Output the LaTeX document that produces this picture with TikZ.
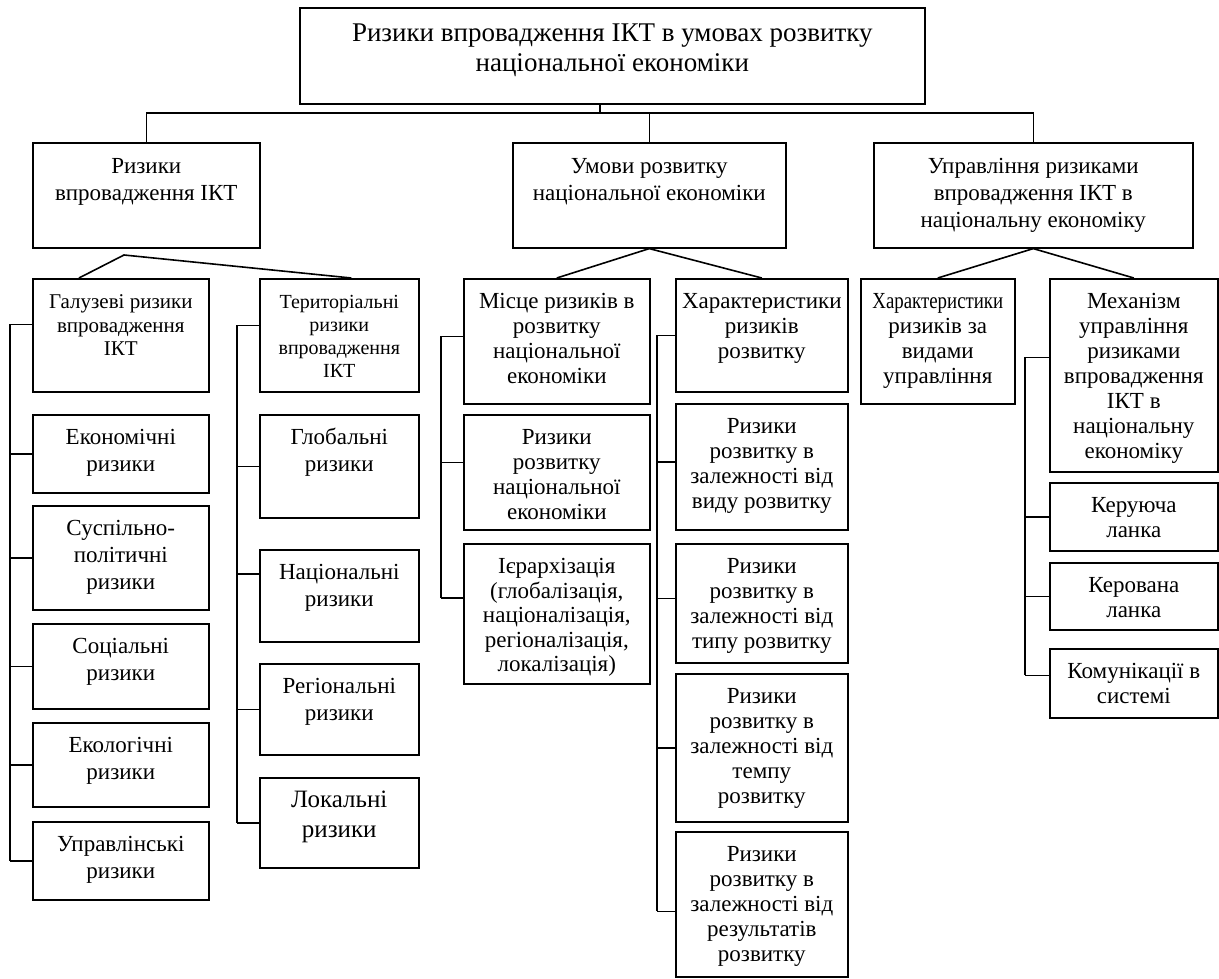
\documentclass[tikz,border=0pt]{standalone}
\usepackage{fontspec}
\setmainfont{Liberation Serif}
\usepackage{graphicx}

% text of a box: width, height, first baseline from the top
\newcommand{\cell}[4][30pt]{\parbox[c][#3][t]{#2}{\centering\vspace*{\dimexpr#1-\ht\strutbox\relax}\strut#4\par}}

\begin{document}
\begin{tikzpicture}[x=1pt,y=-1pt,line width=1.6pt,
                box/.style={draw,rectangle,inner sep=0pt,anchor=north west},
                head box/.style={box,font=\fontsize{27}{30}\selectfont},
                group box/.style={box,font=\fontsize{23}{27}\selectfont},
                sub box/.style={box,font=\fontsize{21}{23.5}\selectfont},
                risk box/.style={box,font=\fontsize{23}{27}\selectfont},
                fact box/.style={box,font=\fontsize{23}{25}\selectfont}]
                \useasboundingbox (0,0) rectangle (1219,979);

                \node[head box] (title) at (299,7) {\cell[34pt]{625pt}{96pt}{Ризики впровадження ІКТ в умовах розвитку\\національної економіки}};

                \node[group box] (catA) at (32,142) {\cell[31pt]{227pt}{105pt}{Ризики\\впровадження ІКТ}};
                \node[group box] (catB) at (512,142) {\cell[31pt]{273pt}{105pt}{Умови розвитку\\національної економіки}};
                \node[group box] (catC) at (873,142) {\cell[31pt]{319pt}{105pt}{Управління ризиками\\впровадження ІКТ в\\національну економіку}};

                % first column
                \node[sub box] (gal) at (32,278) {\cell{176pt}{113pt}{Галузеві ризики\\впровадження\\ІКТ}};
                \node[risk box] (econ) at (32,414) {\cell{176pt}{78pt}{Економічні\\ризики}};
                \node[risk box] (susp) at (32,505) {\cell{176pt}{104pt}{Суспільно-\\політичні\\ризики}};
                \node[risk box] (soc) at (32,623) {\cell{176pt}{85pt}{Соціальні\\ризики}};
                \node[risk box] (eco) at (32,722) {\cell{176pt}{84pt}{Екологічні\\ризики}};
                \node[risk box] (upr) at (32,821) {\cell{176pt}{78pt}{Управлінські\\ризики}};

                % second column
                \node[sub box,font=\fontsize{20}{23}\selectfont] (ter) at (259,278) {\cell{159pt}{113pt}{Територіальні\\ризики\\впровадження\\ІКТ}};
                \node[risk box] (glob) at (259,414) {\cell{159pt}{103pt}{Глобальні\\ризики}};
                \node[risk box] (nat) at (259,549) {\cell{159pt}{92pt}{Національні\\ризики}};
                \node[risk box] (reg) at (259,663) {\cell{159pt}{91pt}{Регіональні\\ризики}};
                \node[risk box,font=\fontsize{25}{30}\selectfont] (loc) at (259,777) {\cell{159pt}{90pt}{Локальні\\ризики}};

                % third column
                \node[fact box] (mis) at (463,278) {\cell{186pt}{125pt}{Місце ризиків в\\розвитку\\національної\\економіки}};
                \node[fact box] (rnat) at (463,414) {\cell{186pt}{115pt}{Ризики\\розвитку\\національної\\економіки}};
                \node[fact box,font=\fontsize{23}{24.5}\selectfont] (ier) at (463,543) {\cell{186pt}{140pt}{Ієрархізація\\(глобалізація,\\націоналізація,\\регіоналізація,\\локалізація)}};

                % fourth column
                \node[fact box] (har) at (675,278) {\cell{172pt}{113pt}{Характеристики\\ризиків\\розвитку}};
                \node[fact box] (vid) at (675,403) {\cell{172pt}{126pt}{Ризики\\розвитку в\\залежності від\\виду розвитку}};
                \node[fact box] (typ) at (675,543) {\cell{172pt}{119pt}{Ризики\\розвитку в\\залежності від\\типу розвитку}};
                \node[fact box] (tem) at (675,673) {\cell{172pt}{148pt}{Ризики\\розвитку в\\залежності від\\темпу\\розвитку}};
                \node[fact box] (res) at (675,831) {\cell{172pt}{145pt}{Ризики\\розвитку в\\залежності від\\результатів\\розвитку}};

                % fifth column
                \node[fact box] (hvu) at (860,278) {\cell{154pt}{125pt}{\scalebox{0.82}[1]{Характеристики}\\ризиків за\\видами\\управління}};
                \node[fact box] (mech) at (1049,278) {\cell{168pt}{193pt}{Механізм\\управління\\ризиками\\впровадження\\ІКТ в\\національну\\економіку}};
                \node[fact box] (ker) at (1049,482) {\cell{168pt}{68pt}{Керуюча\\ланка}};
                \node[fact box] (kerv) at (1049,562) {\cell{168pt}{67pt}{Керована\\ланка}};
                \node[fact box] (kom) at (1049,648) {\cell{168pt}{69pt}{Комунікації в\\системі}};

                % top level
                \coordinate (bus) at (600,113);
                \draw (bus |- title.south) -- (bus);
                \draw (catA.north) |- (bus) -| (catC.north);
                \draw (bus -| catB.north) -- (catB.north);

                % branches
                \coordinate (aapex) at (124,255);
                \draw ([xshift=47pt]gal.north west) -- (aapex) -- ([xshift=12pt]ter.north);
                \draw (mis.north) -- (catB.south) -- (har.north);
                \draw (hvu.north) -- (catC.south) -- (mech.north);

                % side buses
                \foreach \n/\s in {gal/11,econ/0,susp/0,soc/0,eco/0,upr/0}
                    \draw ([yshift=\s pt]\n.west) -- ++(-22,0);
                \draw ([xshift=-22pt,yshift=11pt]gal.west) -- ([xshift=-22pt]upr.west);
                \foreach \n/\s in {ter/10,glob/0,nat/22,reg/0,loc/0}
                    \draw ([yshift=\s pt]\n.west) -- ++(-22,0);
                \draw ([xshift=-22pt,yshift=10pt]ter.west) -- ([xshift=-22pt]loc.west);
                \foreach \n/\s in {mis/5,rnat/10,ier/16}
                    \draw ([yshift=\s pt]\n.west) -- ++(-22,0);
                \draw ([xshift=-22pt,yshift=5pt]mis.west) -- ([xshift=-22pt,yshift=16pt]ier.west);
                \foreach \n/\s in {har/0,vid/5,typ/5,tem/0,res/-7}
                    \draw ([yshift=\s pt]\n.west) -- ++(-18,0);
                \draw ([xshift=-18pt]har.west) -- ([xshift=-18pt,yshift=-7pt]res.west);
                \foreach \n/\s in {mech/18,ker/0,kerv/0,kom/8}
                    \draw ([yshift=\s pt]\n.west) -- ++(-24,0);
                \draw ([xshift=-24pt,yshift=18pt]mech.west) -- ([xshift=-24pt,yshift=8pt]kom.west);
                \end{tikzpicture}
\end{document}
